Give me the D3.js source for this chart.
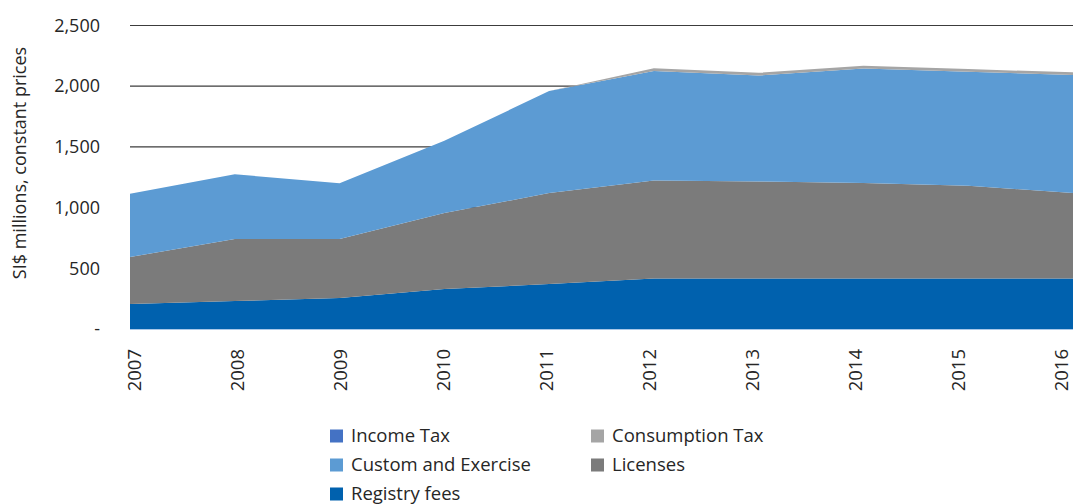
<!DOCTYPE html>
<html>
<head>
<meta charset="utf-8">
<script src="https://cdn.jsdelivr.net/npm/d3@7"></script>
<style>
  body { margin: 0; background: #fff; }
  svg { display: block; font-family: "Open Sans", sans-serif; }
</style>
</head>
<body>
<svg width="1073" height="504"></svg>
<script>
var width = 1073;
var height = 504;

// data (SI$ millions, constant prices)
var years = ["2007", "2008", "2009", "2010", "2011", "2012", "2013", "2014", "2015", "2016"];
var registryFees = [205, 230, 255, 330, 370, 417, 417, 417, 417, 417];
var licenses = [388, 511, 486, 625, 750, 806, 799, 786, 763, 703];
var customAndExercise = [522, 534, 459, 595, 840, 902, 872, 943, 939, 972];
var consumptionTax = [0, 0, 0, 0, 0, 22, 22, 22, 22, 22];
var incomeTax = [0, 0, 0, 0, 0, 0, 0, 0, 0, 0];
var yTicks = [0, 500, 1000, 1500, 2000, 2500];

// stack order, bottom to top
var keys = ["Registry fees", "Licenses", "Custom and Exercise", "Consumption Tax", "Income Tax"];
var colors = {
    "Registry fees": "#0061ae",
    "Licenses": "#7b7b7b",
    "Custom and Exercise": "#5c9bd3",
    "Consumption Tax": "#a5a5a5",
    "Income Tax": "#4472c4"
};
// legend order (row by row)
var legendKeys = ["Income Tax", "Consumption Tax", "Custom and Exercise", "Licenses", "Registry fees"];

var rows = years.map(function (y, i) {
    return {
        year: y,
        "Registry fees": registryFees[i],
        "Licenses": licenses[i],
        "Custom and Exercise": customAndExercise[i],
        "Consumption Tax": consumptionTax[i],
        "Income Tax": incomeTax[i]
    };
});

var svg = d3.select('svg');

var x = d3.scalePoint().domain(years).range([130, 1073]);
var xLabel = d3.scalePoint().domain(years).range([134, 1061]);
var y = d3.scaleLinear().domain([0, 2500]).range([329, 25.5]);

// gridlines behind the areas
svg.append("g")
    .selectAll("line")
    .data(yTicks.filter(function (d) { return d > 0; }))
    .enter()
    .append("line")
    .attr("x1", 130)
    .attr("x2", width)
    .attr("y1", function (d) { return y(d); })
    .attr("y2", function (d) { return y(d); })
    .attr("stroke", "#3c3c3c")
    .attr("stroke-width", 1.2);

// stacked areas
var series = d3.stack().keys(keys)(rows);
var area = d3.area()
    .x(function (d) { return x(d.data.year); })
    .y0(function (d) { return y(d[0]); })
    .y1(function (d) { return y(d[1]); });

svg.append("g")
    .selectAll("path")
    .data(series)
    .enter()
    .append("path")
    .attr("fill", function (d) { return colors[d.key]; })
    .attr("d", area);

// baseline
svg.append("line")
    .attr("x1", 130)
    .attr("x2", width)
    .attr("y1", y(0) + 0.5)
    .attr("y2", y(0) + 0.5)
    .attr("stroke", "#a9c8e8")
    .attr("stroke-width", 1);

// y axis labels
var yAxis = d3.axisLeft(y)
    .tickValues(yTicks)
    .tickSize(0)
    .tickPadding(0)
    .tickFormat(function (d) { return d === 0 ? "-" : d3.format(",")(d); });
var yG = svg.append("g")
    .attr("transform", "translate(100,0)")
    .call(yAxis);
yG.select(".domain").remove();
yG.selectAll("text")
    .attr("font-size", "18px")
    .attr("font-family", "Open Sans, sans-serif")
    .attr("fill", "#262626");

// y axis title
svg.append("text")
    .attr("transform", "translate(26,163) rotate(-90)")
    .attr("text-anchor", "middle")
    .attr("font-size", "18px")
    .attr("fill", "#262626")
    .text("SI$ millions, constant prices");

// x axis labels (rotated)
var xAxis = d3.axisBottom(xLabel).tickSize(0).tickPadding(0);
var xG = svg.append("g")
    .attr("transform", "translate(0,349)")
    .call(xAxis);
xG.select(".domain").remove();
xG.selectAll("text")
    .attr("font-size", "18.5px")
    .attr("font-family", "Open Sans, sans-serif")
    .attr("fill", "#262626")
    .attr("text-anchor", "end")
    .attr("transform", "rotate(-90)")
    .attr("x", 0)
    .attr("y", 0)
    .attr("dy", "0.36em");

// legend
var legend = svg.append("g");
var item = legend.selectAll("g")
    .data(legendKeys)
    .enter()
    .append("g")
    .attr("transform", function (d, i) {
        return "translate(" + (i % 2 === 0 ? 330 : 591) + "," + (436 + Math.floor(i / 2) * 29) + ")";
    });
item.append("rect")
    .attr("x", 0)
    .attr("y", -6.5)
    .attr("width", 13)
    .attr("height", 13)
    .attr("fill", function (d) { return colors[d]; });
item.append("text")
    .attr("x", 21)
    .attr("y", 0)
    .attr("dy", "0.35em")
    .attr("font-size", "18.5px")
    .attr("fill", "#262626")
    .text(function (d) { return d; });
</script>
</body>
</html>
